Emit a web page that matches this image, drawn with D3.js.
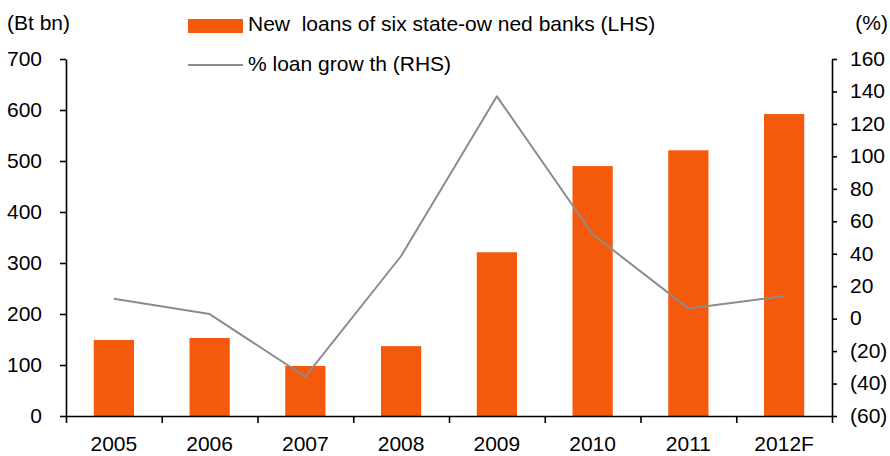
<!DOCTYPE html>
<html>
<head>
<meta charset="utf-8">
<script src="https://cdn.jsdelivr.net/npm/d3@7"></script>
<style>
  html, body { margin: 0; padding: 0; background: #fff; }
  svg { display: block; font-family: "Liberation Sans", Arial, sans-serif; }
</style>
</head>
<body>
<svg id="chart" width="890" height="456"></svg>
<script>
// Years on the category axis
const years = ["2005", "2006", "2007", "2008", "2009", "2010", "2011", "2012F"];
// New loans of six state-owned banks, Bt bn (left axis)
const newLoans = [149, 153, 98, 137, 321, 490, 521, 592];
// % loan growth (right axis)
const loanGrowth = [12.3, 2.8, -35.8, 38.6, 137, 52, 6.3, 13.9];
// Axis tick values
const leftTicks = [0, 100, 200, 300, 400, 500, 600, 700];
const rightTicks = [-60, -40, -20, 0, 20, 40, 60, 80, 100, 120, 140, 160];

const svg = d3.select("#chart");
const plotLeft = 66, plotRight = 832, plotTop = 59, plotBottom = 416;
const fontSize = 21;
const barColor = "#F4590C";
const lineColor = "#8C8C8C";

const x = d3.scaleBand().domain(years).range([plotLeft, plotRight]).paddingInner(0.58).paddingOuter(0.29);
const xTicks = d3.scaleLinear().domain([0, years.length]).range([plotLeft, plotRight]);
const yL = d3.scaleLinear().domain([0, 700]).range([plotBottom, plotTop]);
const yR = d3.scaleLinear().domain([-60, 160]).range([plotBottom, plotTop]);

// Bars
svg.append("g").selectAll("rect").data(years).join("rect")
  .attr("x", d => x(d))
  .attr("width", x.bandwidth())
  .attr("y", (d, i) => yL(newLoans[i]))
  .attr("height", (d, i) => yL(0) - yL(newLoans[i]))
  .attr("fill", barColor);

// Growth line
const line = d3.line()
  .x((d, i) => x(years[i]) + x.bandwidth() / 2)
  .y(d => yR(d));
svg.append("path").datum(loanGrowth)
  .attr("d", line)
  .attr("fill", "none")
  .attr("stroke", lineColor)
  .attr("stroke-width", 2)
  .attr("stroke-linejoin", "round");

// Left axis
const axL = svg.append("g").attr("transform", `translate(${plotLeft},0)`)
  .call(d3.axisLeft(yL).tickValues(leftTicks).tickSize(6).tickPadding(18).tickSizeOuter(0));
// Right axis
const fmtR = v => v < 0 ? `(${Math.abs(v)})` : `${v}`;
const axR = svg.append("g").attr("transform", `translate(${plotRight},0)`)
  .call(d3.axisRight(yR).tickValues(rightTicks).tickFormat(fmtR).tickSize(5).tickPadding(13).tickSizeOuter(0));
// Bottom axis: ticks at category boundaries
const axB = svg.append("g").attr("transform", `translate(0,${plotBottom})`)
  .call(d3.axisBottom(xTicks).tickValues(d3.range(years.length + 1)).tickFormat("").tickSize(7).tickSizeOuter(0));

[axL, axR, axB].forEach(g => {
  g.select(".domain").attr("stroke", "#000").attr("stroke-width", 1.6);
  g.selectAll(".tick line").attr("stroke", "#000").attr("stroke-width", 1.6);
  g.selectAll("text").attr("font-size", fontSize).attr("font-family", "Liberation Sans, Arial, sans-serif").attr("fill", "#000");
});
axL.selectAll(".tick text").attr("dy", "0.3em");
axR.selectAll(".tick text").attr("dy", "0.3em");

// Category labels
svg.append("g").selectAll("text").data(years).join("text")
  .attr("x", d => x(d) + x.bandwidth() / 2)
  .attr("y", 451)
  .attr("text-anchor", "middle")
  .attr("font-size", fontSize)
  .text(d => d);

// Unit labels
svg.append("text").attr("x", 7).attr("y", 30).attr("font-size", fontSize).text("(Bt bn)");
svg.append("text").attr("x", 888).attr("y", 30).attr("text-anchor", "end").attr("font-size", fontSize).text("(%)");

// Legend
const lg = svg.append("g");
lg.append("rect").attr("x", 188).attr("y", 19).attr("width", 55).attr("height", 14).attr("fill", barColor);
lg.append("text").attr("x", 248).attr("y", 31).attr("font-size", fontSize).attr("xml:space", "preserve")
  .style("white-space", "pre").text("New  loans of six state-ow ned banks (LHS)");
lg.append("line").attr("x1", 188).attr("x2", 243).attr("y1", 65).attr("y2", 65)
  .attr("stroke", lineColor).attr("stroke-width", 2);
lg.append("text").attr("x", 248).attr("y", 71).attr("font-size", fontSize).text("% loan grow th (RHS)");
</script>
</body>
</html>
